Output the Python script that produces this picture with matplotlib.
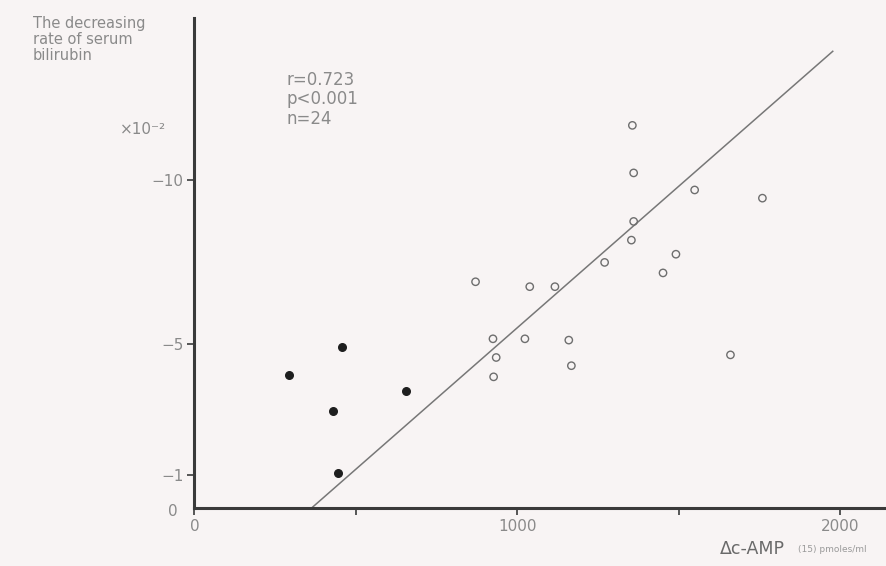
import numpy as np
import matplotlib
matplotlib.use("Agg")
import matplotlib.pyplot as plt

# c-AMP (pmoles/ml) vs decreasing rate of serum bilirubin (x10^-2)
open_x = [1357, 1361, 1550, 1760, 1361, 1354, 1492, 1271, 1452, 871,
          1039, 1117, 925, 1024, 1160, 935, 1661, 1168, 927]
open_y = [11.67, 10.22, 9.70, 9.45, 8.74, 8.17, 7.74, 7.49, 7.17, 6.90,
          6.75, 6.75, 5.16, 5.16, 5.12, 4.59, 4.67, 4.34, 4.00]
filled_x = [458, 292, 654, 429, 446]
filled_y = [4.91, 4.05, 3.57, 2.96, 1.07]

# regression line
line_x0 = 363
line_x1 = 1978
slope = 0.008625

x_ticks = [0, 1000, 2000]
x_minor = [500, 1500]
y_ticks = [1, 5, 10]
y_labels = ["\u22121", "\u22125", "\u221210"]

bg = "#f8f4f4"
grey = "#8a8a8a"
dark = "#3a3a3a"

fig = plt.figure(figsize=(8.86, 5.66), dpi=100, facecolor=bg)
ax = fig.add_axes([0.2195, 0.1025, 0.7805, 0.866], facecolor=bg)

# line
lx = np.array([line_x0, line_x1])
ax.plot(lx, slope * (lx - line_x0), color="#777777", lw=1.1, zorder=2)

ax.scatter(open_x, open_y, s=28, facecolors="none", edgecolors="#6e6e6e",
           linewidths=1.0, zorder=3)
ax.scatter(filled_x, filled_y, s=30, color="#1e1e1e", zorder=3)

ax.set_xlim(0, 2143)
ax.set_ylim(0, 14.95)

for s in ["top", "right"]:
    ax.spines[s].set_visible(False)
for s in ["left", "bottom"]:
    ax.spines[s].set_color(dark)
    ax.spines[s].set_linewidth(2.2)

ax.set_xticks(x_ticks)
ax.set_xticklabels([str(v) for v in x_ticks])
ax.set_xticks(x_minor, minor=True)
ax.tick_params(axis="x", which="both", direction="out", length=5, width=1.2,
               color=dark, labelcolor=grey, labelsize=11, pad=3)

ax.set_yticks(y_ticks)
ax.set_yticklabels(y_labels)
ax.tick_params(axis="y", direction="out", length=5, width=1.2,
               color=dark, labelcolor=grey, labelsize=11, pad=3)

# y axis title and units
fig.text(33 / 886, 1 - 16 / 566, "The decreasing\nrate of serum\nbilirubin",
         fontsize=10.5, color=grey, ha="left", va="top", linespacing=1.1)
fig.text(166 / 886, 1 - 130 / 566, "\u00d710\u207b\u00b2", fontsize=11,
         color=grey, ha="right", va="center")
fig.text(173 / 886, 1 - 511 / 566, "0", fontsize=11, color=grey,
         ha="center", va="center")

# stats
fig.text(287 / 886, 1 - 71 / 566, "r=0.723\np<0.001\nn=24", fontsize=12,
         color=grey, ha="left", va="top", linespacing=1.1)

# x axis title
fig.text(720 / 886, 1 - 549 / 566, "\u0394c-AMP", fontsize=12.5, color="#6a6a6a",
         ha="left", va="center")
fig.text(798 / 886, 1 - 549 / 566, "(15) pmoles/ml", fontsize=6.5, color="#9a9a9a",
         ha="left", va="center")

fig.savefig("out.png", dpi=100, facecolor=bg)
